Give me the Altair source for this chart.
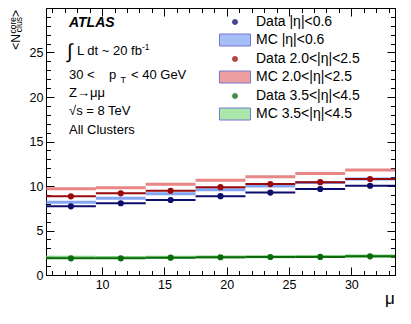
import altair as alt
import pandas as pd

# ---------------- data ----------------
bin_edges = [5.5, 9.5, 13.5, 17.5, 21.5, 25.5, 29.5, 33.5]
mu_centres = [7.5, 11.5, 15.5, 19.5, 23.5, 27.5, 31.5]
series_names = ["|η|<0.6", "2.0<|η|<2.5", "3.5<|η|<4.5"]

data_central = [7.72, 8.06, 8.43, 8.86, 9.26, 9.66, 10.03]
mc_central = [8.17, 8.62, 9.14, 9.58, 10.00, 10.40, 10.78]
data_mid = [8.84, 9.18, 9.47, 9.87, 10.22, 10.43, 10.79]
mc_mid = [9.68, 9.81, 10.19, 10.64, 11.03, 11.40, 11.80]
data_fwd = [1.87, 1.87, 1.95, 1.99, 2.02, 2.03, 2.10]
mc_fwd = [1.99, 1.96, 2.00, 2.03, 2.05, 2.07, 2.12]

x_label_values = [10, 15, 20, 25, 30]
y_label_values = [0, 5, 10, 15, 20, 25]
x_minor_values = list(range(6, 34))
y_minor_values = list(range(0, 31))
y_major_all = [0, 5, 10, 15, 20, 25, 30]

legend_labels = [
    "Data |η|<0.6", "MC |η|<0.6",
    "Data 2.0<|η|<2.5", "MC 2.0<|η|<2.5",
    "Data 3.5<|η|<4.5", "MC 3.5<|η|<4.5",
]

# ---------------- styles ----------------
FONT = "Liberation Sans"
dark_colors = ["#0d0d6b", "#9b0a0a", "#0b6b0b"]
mc_colors = ["#5b86f0", "#e05c5c", "#5cc05c"]
legend_colors = ["#0d0d6b", "#8aa8f5", "#9b0a0a", "#e88080", "#0b6b0b", "#8ee08e"]
legend_strokes = ["transparent", "#4a4ac8", "transparent", "#4a4ac8", "transparent", "#4a4ac8"]
DOT = "M0.4,0A0.4,0.4,0,1,1,-0.4,0A0.4,0.4,0,1,1,0.4,0Z"
BOX = "M-2.07,-0.8H2.07V0.8H-2.07Z"
legend_shapes = [DOT, BOX, DOT, BOX, DOT, BOX]
band_half = 0.17

# ---------------- tables ----------------
rows_d, rows_m = [], []
for name, dvals, mvals, dcol, mcol in zip(series_names,
                                          [data_central, data_mid, data_fwd],
                                          [mc_central, mc_mid, mc_fwd],
                                          dark_colors, mc_colors):
    for i, mu in enumerate(mu_centres):
        lo, hi = bin_edges[i], bin_edges[i + 1]
        rows_d.append({"series": name, "mu": mu, "lo": lo, "hi": hi,
                       "value": dvals[i], "col": dcol})
        rows_m.append({"series": name, "mu": mu, "lo": lo, "hi": hi,
                       "ylo": mvals[i] - band_half, "yhi": mvals[i] + band_half,
                       "col": mcol})
df_data = pd.DataFrame(rows_d)
df_mc = pd.DataFrame(rows_m)

leg_rows = []
for k, lab in enumerate(legend_labels):
    s = k // 2
    vals = [[data_central, mc_central], [data_mid, mc_mid], [data_fwd, mc_fwd]][s][k % 2]
    leg_rows.append({"label": lab, "mu": mu_centres[0], "value": vals[0]})
df_leg = pd.DataFrame(leg_rows)

xs = alt.Scale(domain=[bin_edges[0], bin_edges[-1]], nice=False, zero=False)
ys = alt.Scale(domain=[0, 30], nice=False, zero=False)


def axis(orient, values, size, labels=False):
    kw = dict(orient=orient, values=values, tickSize=size, offset=-size,
              domain=False, grid=False, labels=labels, title=None,
              ticks=True, tickColor="black", tickWidth=1)
    if labels:
        kw.update(labelFont=FONT, labelFontSize=12.5, labelColor="black",
                  labelPadding=3, labelFlush=False, labelOverlap=False)
    return alt.Axis(**kw)


mc_layer = alt.Chart(df_mc).mark_rect(opacity=0.75).encode(
    x=alt.X("lo:Q", scale=xs, axis=axis("bottom", x_label_values, 8, True)),
    x2="hi:Q",
    y=alt.Y("ylo:Q", scale=ys, axis=axis("left", y_label_values, 8, True)),
    y2="yhi:Q",
    color=alt.Color("col:N", scale=None),
)

rule_layer = alt.Chart(df_data).mark_rule(strokeWidth=2).encode(
    x=alt.X("lo:Q", scale=xs, axis=axis("bottom", x_minor_values, 4.5)),
    x2="hi:Q",
    y=alt.Y("value:Q", scale=ys, axis=axis("left", y_minor_values, 4.5)),
    color=alt.Color("col:N", scale=None),
)

point_layer = alt.Chart(df_data).mark_circle(size=38, opacity=1).encode(
    x=alt.X("mu:Q", scale=xs, axis=axis("top", x_label_values, 8)),
    y=alt.Y("value:Q", scale=ys, axis=axis("right", y_major_all, 8)),
    color=alt.Color("col:N", scale=None),
)

legend_props = dict(
    title=None, orient="none", legendX=181, legendY=6, padding=0,
    labelFont=FONT, labelFontSize=14, labelColor="black", labelOffset=13,
    symbolSize=225, rowPadding=3, symbolStrokeWidth=1, symbolOpacity=1,
)

legend_layer = alt.Chart(df_leg).mark_point(filled=True, opacity=0).encode(
    x=alt.X("mu:Q", scale=xs, axis=axis("top", x_minor_values, 4.5)),
    y=alt.Y("value:Q", scale=ys, axis=axis("right", y_minor_values, 4.5)),
    color=alt.Color("label:N", scale=alt.Scale(domain=legend_labels, range=legend_colors),
                    legend=alt.Legend(**legend_props)),
    shape=alt.Shape("label:N", scale=alt.Scale(domain=legend_labels, range=legend_shapes),
                    legend=alt.Legend(**legend_props)),
    stroke=alt.Stroke("label:N", scale=alt.Scale(domain=legend_labels, range=legend_strokes),
                      legend=alt.Legend(**legend_props)),
)


def txt(text, x, y, size=13, align="left", baseline="alphabetic", **kw):
    return alt.Chart(alt.Data(values=[{}])).mark_text(
        text=text, font=FONT, fontSize=size, align=align, baseline=baseline,
        color="black", **kw).encode(x=alt.value(x), y=alt.value(y))


texts = [
    txt("ATLAS", 23, 19, 14, fontStyle="italic", fontWeight="bold"),
    txt("∫", 21, 50, 20),
    txt("L dt ~ 20 fb", 31, 47, 13),
    txt("-1", 96, 42, 8.5),
    txt("30 <", 23, 71, 13),
    txt("p", 63, 71, 13),
    txt("T", 74.5, 75, 9),
    txt("< 40 GeV", 85, 71, 13),
    txt("Z→μμ", 23, 89, 13),
    txt("√s = 8 TeV", 23, 107, 13),
    txt("All Clusters", 23, 126, 13),
    # y-axis title pieces (rotated)
    txt(">", -30, 2, 12, align="right", baseline="middle", angle=270),
    txt("core", -33, 9, 8.5, align="right", baseline="middle", angle=270),
    txt("clus", -27, 9, 8.5, align="right", baseline="middle", angle=270),
    txt("<N", -30, 26, 12, align="right", baseline="middle", angle=270),
    # x-axis title
    txt("μ", 344, 296, 17, align="center"),
]

chart = alt.layer(mc_layer, rule_layer, point_layer, legend_layer, *texts).resolve_axis(
    x="independent", y="independent"
).properties(
    width=349, height=267,
    autosize=alt.AutoSizeParams(type="none"),
    padding={"left": 38, "top": 0, "right": 8, "bottom": 40},
    background="white",
).configure_view(stroke="black", strokeWidth=1)

chart.save("out.html", embed_options={"renderer": "svg", "actions": False})
